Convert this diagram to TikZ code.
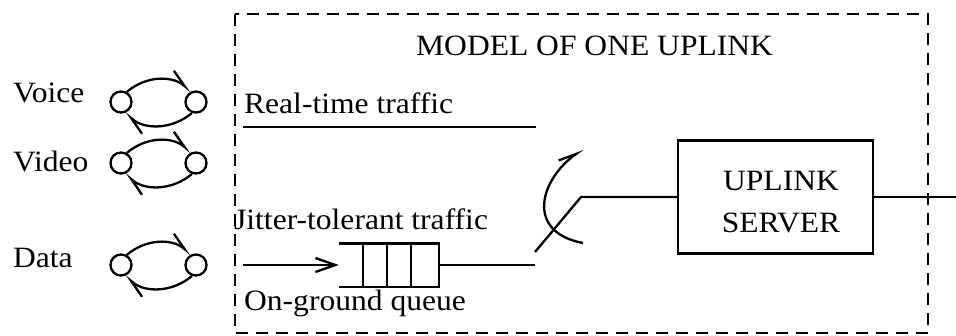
\documentclass[tikz,border=0pt]{standalone}
\usepackage{fontspec}
\setmainfont{Liberation Serif}[FakeStretch=1.07]
\usetikzlibrary{arrows.meta}
\begin{document}
\begin{tikzpicture}[x=1pt,y=-1pt,line width=2.3pt,
  lbl/.style={font=\fontsize{29.5}{41}\selectfont, inner sep=0pt},
  st/.style={circle, draw, minimum size=21pt, inner sep=0pt},
  harp/.style={-{Straight Barb[harpoon,length=18pt,width=10pt]}},
  fwd/.style={-{Straight Barb[length=20pt,width=14pt]}},
  frame/.style={dashed, dash pattern=on 12pt off 8pt, line width=1.9pt},
  srv/.style={draw, minimum width=195pt, minimum height=113pt, inner sep=0pt}]
\useasboundingbox (0,0) rectangle (956,335);
% dashed frame
\draw[frame] (235,14) rectangle (928,333);
\node[lbl, anchor=base west] (title) at (415,55) {MODEL OF ONE UPLINK};
% sources
\node[lbl, anchor=base west] (voice) at (12,102) {Voice};
\node[lbl, anchor=base west] (video) at (12,171) {Video};
\node[lbl, anchor=base west] (data) at (12,267) {Data};
\foreach \n/\y in {vo/102, vi/163, da/265}{
  \node[st] (\n1) at (121,\y) {};
  \node[st] (\n2) at (196,\y) {};
  \draw[harp] (\n1.60) to[bend left=40] (\n2.115);
  \draw[harp] (\n2.-110) to[bend left=40] (\n1.-70);
}
% real-time traffic
\node[lbl, anchor=base west] (rt) at (243,113) {Real-time traffic};
\coordinate (rtA) at (243,127);
\coordinate (rtB) at (536,127);
\draw (rtA) -- (rtB);
% jitter-tolerant traffic
\node[lbl, anchor=base west] (jt) at (233,229) {Jitter-tolerant traffic};
\node[lbl, anchor=base west] (og) at (243,310) {On-ground queue};
\node[minimum width=98pt, minimum height=41pt, inner sep=0pt] (q) at (389,265) {};
\draw (q.north west) -- (q.north east) -- (q.south east) -- (q.south west);
\foreach \x in {363,387,411}{\draw (\x,244.5) -- (\x,285.5);}
\coordinate (ain) at (243,265);
\draw[fwd] (ain) -- (q.west);
\coordinate (qo) at (535,265);
\draw (q.east) -- (qo);
% switch and server
\node[srv] (ups) at (775.5,197) {};
\node[lbl, anchor=base] (up1) at (781,190) {UPLINK};
\node[lbl, anchor=base] (up2) at (781,232) {SERVER};
\coordinate (sw0) at (535,252);
\coordinate (sw1) at (581,197);
\draw (sw0) -- (sw1) -- (ups.west);
\coordinate (arcA) at (583,243);
\coordinate (arcB) at (583,149);
\draw[harp] (arcA) .. controls (525,232) and (540,180) .. (arcB);
\coordinate (out) at (956,197);
\draw (ups.east) -- (out);
\end{tikzpicture}
\end{document}
